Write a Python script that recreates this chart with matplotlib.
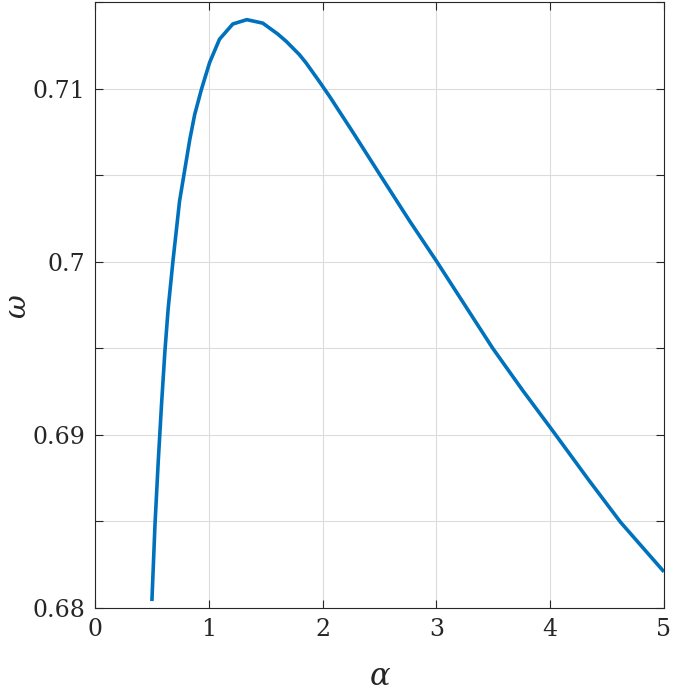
import matplotlib
matplotlib.use("Agg")
import matplotlib.pyplot as plt
from matplotlib.ticker import FixedLocator, FuncFormatter

alpha = [0.5, 0.527, 0.556, 0.585, 0.614, 0.643, 0.686, 0.743, 0.833, 0.876,
         0.935, 1.007, 1.094, 1.211, 1.334, 1.474, 1.606, 1.68, 1.796, 1.855,
         1.97, 2.06, 2.266, 2.512, 2.76, 3.0, 3.495, 3.758, 4.018, 4.34,
         4.62, 5.0]
omega = [0.6804, 0.6848, 0.6885, 0.6918, 0.6948, 0.6973, 0.7001, 0.7035, 0.70706, 0.7085,
         0.70995, 0.7115, 0.71285, 0.71373, 0.71398, 0.71378, 0.71315, 0.71273, 0.71196, 0.71148,
         0.71042, 0.70956, 0.70748, 0.70494, 0.7024, 0.70004, 0.69500, 0.69257, 0.69027, 0.68738,
         0.68494, 0.68209]

x_ticks = [0, 1, 2, 3, 4, 5]
y_ticks = [0.68, 0.685, 0.69, 0.695, 0.70, 0.705, 0.71, 0.715]
y_labels = {0.68: "0.68", 0.69: "0.69", 0.70: "0.7", 0.71: "0.71"}

plt.rcParams['font.family'] = ['DejaVu Serif']
plt.rcParams['mathtext.fontset'] = 'dejavuserif'

fig = plt.figure(figsize=(6.78, 6.95), dpi=100)
ax = fig.add_axes([95/678, 87/695, (664-95)/678, (608-2)/695])

ax.plot(alpha, omega, color='#0072BD', lw=2.6, solid_capstyle='butt',
        solid_joinstyle='round', zorder=3)

ax.set_xlim(0, 5)
ax.set_ylim(0.68, 0.715)
ax.xaxis.set_major_locator(FixedLocator(x_ticks))
ax.yaxis.set_major_locator(FixedLocator(y_ticks))

def yfmt(v, pos):
    for k, s in y_labels.items():
        if abs(v - k) < 1e-6:
            return s
    return ""
ax.yaxis.set_major_formatter(FuncFormatter(yfmt))

ax.grid(True, color='#dcdcdc', lw=0.8, zorder=0)
ax.tick_params(direction='in', top=True, right=True, length=6, width=0.8,
               labelsize=17, colors='#262626', pad=7)
for s in ax.spines.values():
    s.set_color('#262626')
    s.set_linewidth(0.8)

ax.set_xlabel(r'$\alpha$', fontsize=22, color='#262626', va='center')
ax.set_ylabel(r'$\omega$', fontsize=21, color='#262626', va='center')
ax.xaxis.set_label_coords(0.5, -0.113)
ax.yaxis.set_label_coords(-0.135, 0.498)

fig.savefig('out.png', dpi=100)
